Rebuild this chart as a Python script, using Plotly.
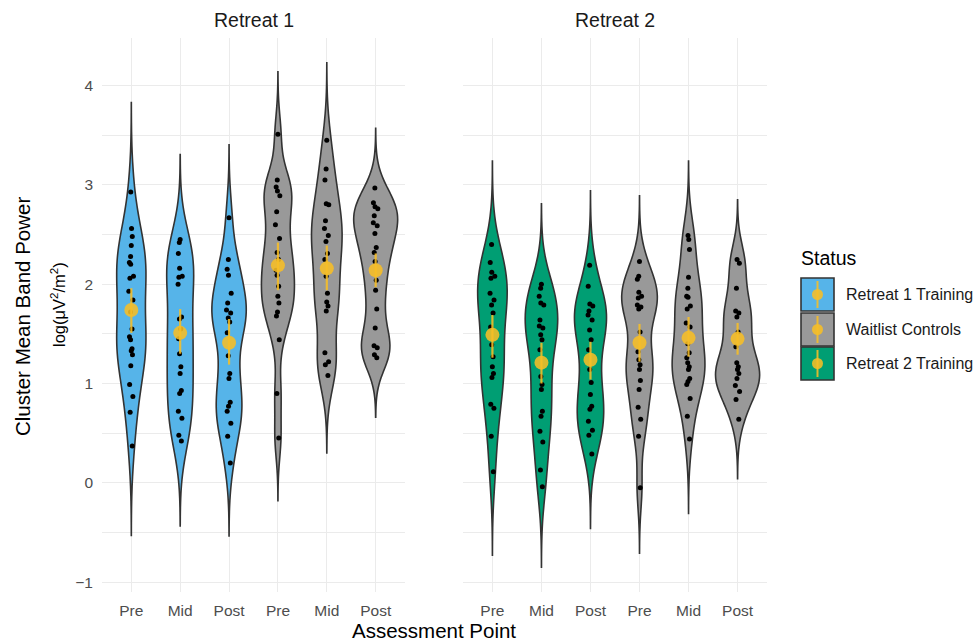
import numpy as np
import plotly.graph_objects as go

# ---------------- data ----------------
tick_labels = ["Pre", "Mid", "Post", "Pre", "Mid", "Post"]
tick_positions = [1, 2, 3, 4, 5, 6]
panel_titles = ["Retreat 1", "Retreat 2"]
statuses = ["Retreat 1 Training", "Waitlist Controls", "Retreat 2 Training"]
status_colors = ["#56B4E9", "#999999", "#009E73"]

# Retreat 1 panel: training group (Retreat 1 Training)
r1_train_pre = [2.93, 2.56, 2.48, 2.39, 2.28, 2.22, 2.20, 2.08, 2.06, 1.93, 1.84, 1.72,
                1.55, 1.47, 1.44, 1.35, 1.33, 1.29, 1.18, 0.99, 0.87, 0.71, 0.37]
r1_train_mid = [2.45, 2.42, 2.31, 2.16, 2.08, 2.07, 2.00, 1.67, 1.65, 1.55, 1.45,
                1.30, 1.17, 1.10, 0.93, 0.90, 0.72, 0.65, 0.48, 0.42]
r1_train_post = [2.67, 2.25, 2.15, 2.09, 1.91, 1.81, 1.74, 1.71, 1.66, 1.62, 1.51,
                 1.28, 1.10, 1.05, 0.81, 0.77, 0.72, 0.60, 0.47, 0.20]
# Retreat 1 panel: waitlist controls
r1_wait_pre = [3.51, 3.05, 2.98, 2.94, 2.89, 2.73, 2.60, 2.46, 2.32, 2.25, 2.14, 2.09,
               1.98, 1.88, 1.81, 1.72, 1.68, 1.44, 0.90, 0.45]
r1_wait_mid = [3.45, 3.16, 3.05, 2.81, 2.80, 2.64, 2.56, 2.49, 2.43, 2.31, 2.25, 2.08,
               1.91, 1.82, 1.78, 1.73, 1.31, 1.22, 1.19, 1.08]
r1_wait_post = [2.97, 2.82, 2.78, 2.76, 2.69, 2.62, 2.59, 2.51, 2.37, 2.32, 2.23, 2.04,
                1.94, 1.75, 1.56, 1.38, 1.36, 1.29, 1.26]
# Retreat 2 panel: training group (Retreat 2 Training)
r2_train_pre = [2.40, 2.22, 2.12, 2.08, 2.06, 1.91, 1.84, 1.79, 1.71, 1.57, 1.39,
                1.27, 1.17, 1.10, 1.06, 0.79, 0.75, 0.47, 0.11]
r2_train_mid = [2.00, 1.96, 1.88, 1.81, 1.79, 1.64, 1.58, 1.56, 1.49, 1.44, 1.34,
                1.07, 0.99, 0.94, 0.72, 0.67, 0.52, 0.41, 0.13, -0.04]
r2_train_post = [2.19, 1.98, 1.80, 1.78, 1.73, 1.69, 1.64, 1.54, 1.44, 1.34, 1.14,
                 1.01, 0.89, 0.77, 0.74, 0.62, 0.53, 0.48, 0.29]
# Retreat 2 panel: waitlist controls
r2_wait_pre = [2.23, 2.08, 2.05, 1.92, 1.88, 1.86, 1.79, 1.77, 1.75, 1.52, 1.32,
               1.24, 1.19, 1.14, 1.03, 0.94, 0.76, 0.64, 0.47, -0.05]
r2_wait_mid = [2.49, 2.45, 2.35, 2.07, 1.96, 1.88, 1.87, 1.78, 1.75, 1.61, 1.57, 1.40,
               1.31, 1.26, 1.21, 1.17, 1.14, 1.05, 1.02, 0.99, 0.85, 0.67, 0.44]
r2_wait_post = [2.25, 2.21, 1.96, 1.73, 1.71, 1.67, 1.52, 1.37, 1.21, 1.17, 1.14,
                1.10, 1.05, 0.98, 0.92, 0.84, 0.64]

# kernel bandwidths of each violin (read from the length of the tails)
r1_bandwidths = [0.30, 0.285, 0.245, 0.21, 0.26, 0.20]
r2_bandwidths = [0.28, 0.27, 0.25, 0.22, 0.25, 0.20]

# group means and error-bar limits
r1_means = [1.74, 1.51, 1.41, 2.19, 2.16, 2.14]
r1_lower = [1.51, 1.30, 1.19, 1.94, 1.94, 1.97]
r1_upper = [1.96, 1.75, 1.65, 2.42, 2.39, 2.31]
r2_means = [1.49, 1.21, 1.24, 1.41, 1.46, 1.45]
r2_lower = [1.26, 1.00, 1.04, 1.22, 1.27, 1.29]
r2_upper = [1.69, 1.41, 1.42, 1.60, 1.67, 1.61]

panels = [
    dict(groups=[r1_train_pre, r1_train_mid, r1_train_post, r1_wait_pre, r1_wait_mid, r1_wait_post],
         status=[0, 0, 0, 1, 1, 1], bw=r1_bandwidths,
         means=r1_means, lower=r1_lower, upper=r1_upper),
    dict(groups=[r2_train_pre, r2_train_mid, r2_train_post, r2_wait_pre, r2_wait_mid, r2_wait_post],
         status=[2, 2, 2, 1, 1, 1], bw=r2_bandwidths,
         means=r2_means, lower=r2_lower, upper=r2_upper),
]

# ---------------- layout geometry ----------------
W, H = 974, 643
ML, MR, MT, MB = 102, 207, 38, 51
PW, PH = W - ML - MR, H - MT - MB


def px2x(px):
    return (px - ML) / PW


def py2y(py):
    return (H - MB - py) / PH


dom_left = [0, px2x(405)]
dom_right = [px2x(463), 1]

MEAN_COLOR = "rgba(247,190,38,0.88)"
FONT = "Liberation Sans, Arial, sans-serif"

fig = go.Figure()

for pi, panel in enumerate(panels):
    xa = "x" if pi == 0 else "x2"
    for gi, vals in enumerate(panel["groups"]):
        v = np.asarray(vals, dtype=float)
        bw = panel["bw"][gi]
        fig.add_trace(go.Violin(
            x=[tick_positions[gi]] * len(v),
            y=v,
            xaxis=xa, yaxis="y",
            name=statuses[panel["status"][gi]],
            showlegend=False,
            fillcolor=status_colors[panel["status"][gi]],
            opacity=1,
            line=dict(color="#333333", width=1.6),
            bandwidth=bw,
            spanmode="manual",
            span=[v.min() - 3 * bw, v.max() + 3 * bw],
            scalegroup=f"panel{pi}",
            scalemode="width",
            points="all",
            pointpos=0,
            jitter=0.12,
            marker=dict(color="black", size=5, line=dict(width=0)),
            box_visible=False,
            meanline_visible=False,
            hoverinfo="skip",
        ))
    means = np.asarray(panel["means"])
    fig.add_trace(go.Scatter(
        x=tick_positions,
        y=means,
        xaxis=xa, yaxis="y",
        mode="markers",
        showlegend=False,
        marker=dict(color=MEAN_COLOR, size=14, line=dict(width=0)),
        error_y=dict(type="data", symmetric=False,
                     array=np.asarray(panel["upper"]) - means,
                     arrayminus=means - np.asarray(panel["lower"]),
                     color=MEAN_COLOR, thickness=2.2, width=0),
        hoverinfo="skip",
    ))

grid = "#EBEBEB"
TICKFONT = dict(family=FONT, size=15.5, color="#4D4D4D")
xaxis_common = dict(
    range=[0.4, 6.6], tickvals=tick_positions, ticktext=tick_labels,
    showgrid=True, gridcolor=grid, gridwidth=1.3, zeroline=False,
    showline=False, ticks="", ticklabelstandoff=7,
    tickfont=TICKFONT,
    anchor="y", fixedrange=True, automargin=False,
)

fig.update_layout(
    width=W, height=H,
    margin=dict(l=ML, r=MR, t=MT, b=MB, autoexpand=False),
    paper_bgcolor="white", plot_bgcolor="white",
    violinmode="overlay", violingap=0.1, violingroupgap=0,
    showlegend=False,
    font=dict(family=FONT),
    xaxis=dict(domain=dom_left, **xaxis_common),
    xaxis2=dict(domain=dom_right, **xaxis_common),
    yaxis=dict(
        range=[-1.1, 4.48], tickvals=[-1, 0, 1, 2, 3, 4],
        showgrid=True, gridcolor=grid, gridwidth=1.3, zeroline=False,
        showline=False, ticks="", ticklabelstandoff=8,
        tickfont=TICKFONT,
        minor=dict(tickvals=[-0.5, 0.5, 1.5, 2.5, 3.5], showgrid=True,
                   gridcolor=grid, gridwidth=0.7),
        anchor="x", fixedrange=True, automargin=False,
    ),
)

annotations = [
    dict(text=panel_titles[0], x=(dom_left[0] + dom_left[1]) / 2, y=py2y(20),
         font=dict(size=19.5, color="#1A1A1A")),
    dict(text=panel_titles[1], x=(dom_right[0] + dom_right[1]) / 2, y=py2y(20),
         font=dict(size=19.5, color="#1A1A1A")),
    dict(text="Assessment Point", x=px2x(434), y=py2y(630),
         font=dict(size=20.5, color="black")),
    dict(text="Cluster Mean Band Power", x=px2x(22), y=py2y(317), textangle=-90,
         font=dict(size=20.5, color="black")),
    dict(text="log(μV<sup>2</sup>/m<sup>2</sup>)", x=px2x(58), y=py2y(305), textangle=-90,
         font=dict(size=16.5, color="black")),
    dict(text="Status", x=px2x(799), y=py2y(258), xanchor="left",
         font=dict(size=19.5, color="black")),
]

# manual legend
shapes = []
key_tops = [278, 313, 347]
key_h = 33
kx0, kx1 = 801, 834
for si, top in enumerate(key_tops):
    shapes.append(dict(type="rect", xref="paper", yref="paper",
                       x0=px2x(kx0), x1=px2x(kx1), y0=py2y(top + key_h), y1=py2y(top),
                       fillcolor=status_colors[si], line=dict(color="#333333", width=1.6)))
    cx = (kx0 + kx1) / 2
    shapes.append(dict(type="line", xref="paper", yref="paper",
                       x0=px2x(cx), x1=px2x(cx), y0=py2y(top + key_h - 3), y1=py2y(top + 3),
                       line=dict(color=MEAN_COLOR, width=2)))
    cy = top + key_h / 2
    shapes.append(dict(type="circle", xref="paper", yref="paper",
                       x0=px2x(cx - 5.5), x1=px2x(cx + 5.5), y0=py2y(cy + 5.5), y1=py2y(cy - 5.5),
                       fillcolor=MEAN_COLOR, line=dict(width=0)))
    annotations.append(dict(text=statuses[si], x=px2x(844), y=py2y(cy), xanchor="left",
                            font=dict(size=16, color="#1A1A1A")))

for a in annotations:
    a.setdefault("xref", "paper")
    a.setdefault("yref", "paper")
    a.setdefault("showarrow", False)
    a.setdefault("xanchor", "center")
    a.setdefault("yanchor", "middle")

fig.update_layout(annotations=annotations, shapes=shapes)

fig.write_html("out.html",
               config={"displayModeBar": False},
               post_script="document.body.style.margin='0px';document.body.style.padding='0px';")
